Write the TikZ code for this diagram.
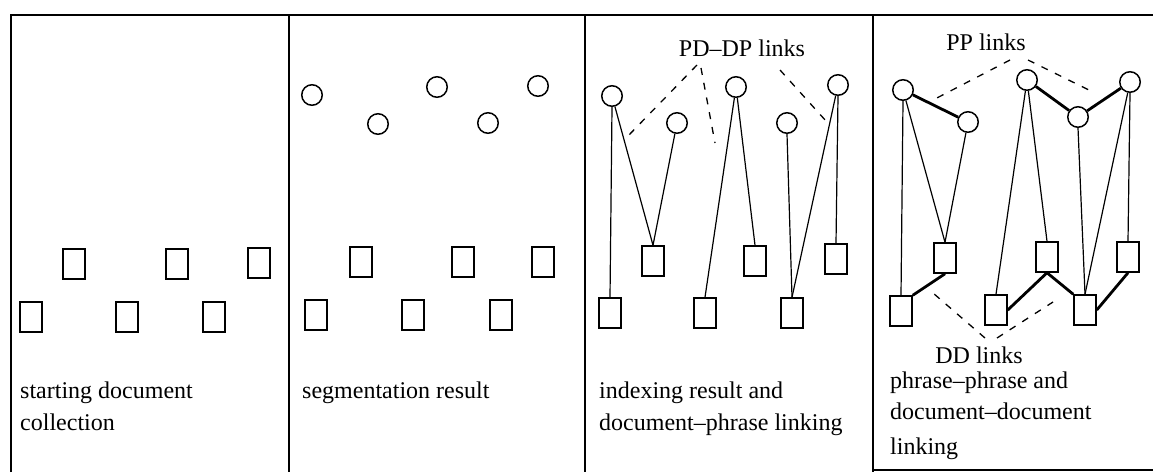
\documentclass[tikz,border=0pt]{standalone}
\usepackage{fontspec}
\setmainfont{Liberation Serif}
\begin{document}
\begin{tikzpicture}[x=1pt,y=-1pt,
  doc/.style={draw,rectangle,line width=1.5pt,minimum width=22pt,minimum height=30pt,inner sep=0pt},
  phr/.style={draw,circle,line width=1.5pt,minimum size=20.5pt,inner sep=0pt},
  frame/.style={line width=1.8pt},
  thin/.style={line width=1.2pt},
  thick/.style={line width=2.8pt},
  dlink/.style={line width=1.3pt,dash pattern=on 7pt off 8pt},
  captxt/.style={font=\fontsize{24}{33}\selectfont,anchor=base west,inner sep=0pt},
  lbl/.style={font=\fontsize{24}{33}\selectfont,inner sep=0pt}]
\useasboundingbox (0,0) rectangle (1153,472);
% frame
\coordinate (tl) at (11,15);
\coordinate (tr) at (1153,15);
\coordinate (bl) at (11,472);
\coordinate (p2t) at (289,15);  \coordinate (p2b) at (289,472);
\coordinate (p3t) at (585,15);  \coordinate (p3b) at (585,472);
\coordinate (p4t) at (873,15);  \coordinate (p4b) at (873,472);
\coordinate (br) at (1153,470); \coordinate (p4bb) at (873,470);
\draw[frame] (bl) -- (tl) -- (tr);
\draw[frame] (p2t) -- (p2b);
\draw[frame] (p3t) -- (p3b);
\draw[frame] (p4t) -- (p4b);
\draw[line width=1.2pt] (p4bb) -- (br);

% panel 1
\node[doc] (a1) at (74,264) {};
\node[doc] (a2) at (177,264) {};
\node[doc] (a3) at (259,263) {};
\node[doc] (a4) at (31,317) {};
\node[doc] (a5) at (127,317) {};
\node[doc] (a6) at (214,317) {};
\node[captxt] (ta1) at (20,398) {starting document};
\node[captxt] (ta2) at (20,430) {collection};

% panel 2
\node[phr] (bc1) at (312,95) {};
\node[phr] (bc2) at (378,124) {};
\node[phr] (bc3) at (437,87) {};
\node[phr] (bc4) at (488,123) {};
\node[phr] (bc5) at (538,86) {};
\node[doc] (bu1) at (361,262) {};
\node[doc] (bu2) at (463,262) {};
\node[doc] (bu3) at (543,262) {};
\node[doc] (bl1) at (316,315) {};
\node[doc] (bl2) at (413,315) {};
\node[doc] (bl3) at (501,315) {};
\node[captxt] (tb1) at (302,398) {segmentation result};

% panel 3
\node[phr] (cc1) at (612,96) {};
\node[phr] (cc2) at (677,123) {};
\node[phr] (cc3) at (736,87) {};
\node[phr] (cc4) at (787,123) {};
\node[phr] (cc5) at (838,85) {};
\node[doc] (cu1) at (653,261) {};
\node[doc] (cu2) at (755,261) {};
\node[doc] (cu3) at (836,259) {};
\node[doc] (cl1) at (610,313) {};
\node[doc] (cl2) at (705,313) {};
\node[doc] (cl3) at (792,313) {};
\draw[thin] (cc1.south) -- (cl1.north);
\draw[thin] (cc1) -- (cu1.north);
\draw[thin] (cc2) -- (cu1.north);
\draw[thin] (cc3) -- (cl2.north);
\draw[thin] (cc3) -- (cu2.north);
\draw[thin] (cc4.south) -- (cl3.north);
\draw[thin] (cc5) -- (cl3.north);
\draw[thin] (cc5.south) -- (cu3.north);
\node[lbl] (pd) at (742,48) {PD--DP links};
\coordinate (pd1s) at (697,65);  \coordinate (pd1e) at (627,137);
\coordinate (pd2s) at (701,68);  \coordinate (pd2e) at (715,143);
\coordinate (pd3s) at (780,70);  \coordinate (pd3e) at (826,121);
\draw[dlink] (pd1s) -- (pd1e);
\draw[dlink] (pd2s) -- (pd2e);
\draw[dlink] (pd3s) -- (pd3e);
\node[captxt] (tc1) at (599,398) {indexing result and};
\node[captxt] (tc2) at (599,430) {document--phrase linking};

% panel 4
\node[phr] (dc1) at (903,90) {};
\node[phr] (dc2) at (968,122) {};
\node[phr] (dc3) at (1027,80) {};
\node[phr] (dc4) at (1078,117) {};
\node[phr] (dc5) at (1130,82) {};
\node[doc] (du1) at (945,258) {};
\node[doc] (du2) at (1047,257) {};
\node[doc] (du3) at (1128,257) {};
\node[doc] (dl1) at (901,311) {};
\node[doc] (dl2) at (996,310) {};
\node[doc] (dl3) at (1085,310) {};
\draw[thin] (dc1.south) -- (dl1.north);
\draw[thin] (dc1) -- (du1.north);
\draw[thin] (dc2) -- (du1.north);
\draw[thin] (dc3) -- (dl2.north);
\draw[thin] (dc3) -- (du2.north);
\draw[thin] (dc4.south) -- (dl3.north);
\draw[thin] (dc5) -- (dl3.north);
\draw[thin] (dc5.south) -- (du3.north);
% PP links
\draw[thick] (dc1) -- (dc2);
\draw[thick] (dc3) -- (dc4);
\draw[thick] (dc4) -- (dc5);
% DD links
\draw[thick] (du1.south) -- (dl1.north east);
\draw[thick] (dl2.east) -- (du2.south);
\draw[thick] (du2.south) -- (dl3.north west);
\draw[thick] (dl3.east) -- (du3.south);
\node[lbl] (pp) at (986,42) {PP links};
\coordinate (pp1s) at (1010,60); \coordinate (pp1e) at (933,100);
\coordinate (pp2s) at (1028,60); \coordinate (pp2e) at (1093,92);
\draw[dlink] (pp1s) -- (pp1e);
\draw[dlink] (pp2s) -- (pp2e);
\node[lbl] (dd) at (979,355) {DD links};
\coordinate (dd1s) at (985,338); \coordinate (dd1e) at (933,293);
\coordinate (dd2s) at (997,338); \coordinate (dd2e) at (1053,302);
\draw[dlink] (dd1s) -- (dd1e);
\draw[dlink] (dd2s) -- (dd2e);
\node[captxt] (td1) at (890,388) {phrase--phrase and};
\node[captxt] (td2) at (890,419) {document--document};
\node[captxt] (td3) at (890,454) {linking};
\end{tikzpicture}
\end{document}
